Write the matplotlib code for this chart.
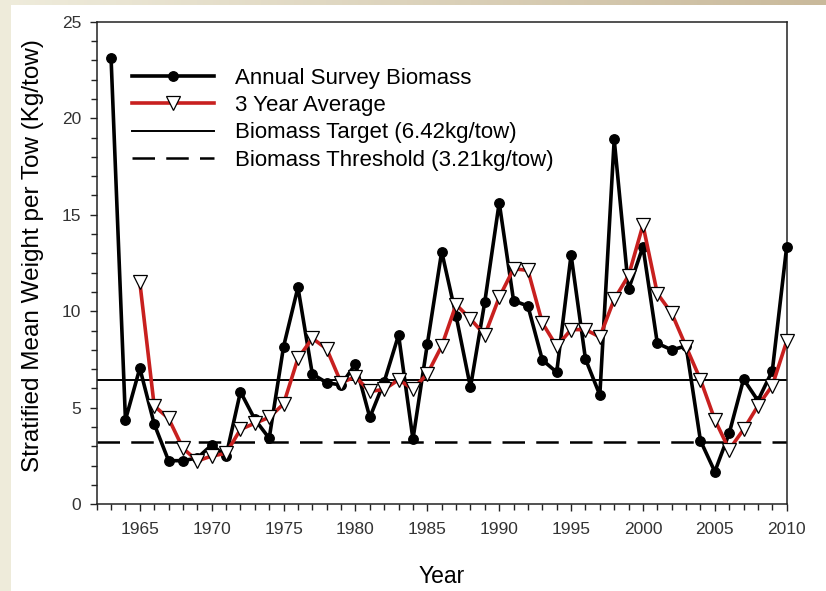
import matplotlib
matplotlib.use('Agg')
import matplotlib.pyplot as plt
import numpy as np
from matplotlib.ticker import MultipleLocator
from matplotlib.patches import Rectangle
from matplotlib.colors import LinearSegmentedColormap

plt.rcParams['font.family'] = ['Liberation Sans', 'DejaVu Sans']

years = list(range(1963, 2011))
annual = [23.1, 4.37, 7.05, 4.16, 2.26, 2.26, 2.4, 3.07, 2.5, 5.83,
          4.4, 3.42, 8.17, 11.24, 6.75, 6.3, 6.18, 7.27, 4.5, 6.35,
          8.77, 3.37, 8.3, 13.09, 9.76, 6.06, 10.5, 15.63, 10.55, 10.27,
          7.48, 6.84, 12.92, 7.53, 5.66, 18.9, 11.14, 13.35, 8.34, 8.0,
          8.2, 3.3, 1.69, 3.68, 6.48, 5.37, 6.92, 13.35]
avg_years = list(range(1965, 2011))
avg3 = [11.5, 5.1, 4.45, 2.9, 2.25, 2.5, 2.64, 3.88, 4.2, 4.5,
        5.2, 7.56, 8.6, 8.05, 6.3, 6.6, 5.85, 5.95, 6.45, 5.98,
        6.75, 8.2, 10.35, 9.6, 8.77, 10.72, 12.2, 12.12, 9.4, 8.18,
        9.05, 9.05, 8.67, 10.62, 11.85, 14.47, 10.92, 9.9, 8.17, 6.46,
        4.38, 2.83, 3.88, 5.1, 6.15, 8.45]
target = 6.42
threshold = 3.21
labels = ['Annual Survey Biomass', '3 Year Average',
          'Biomass Target (6.42kg/tow)', 'Biomass Threshold (3.21kg/tow)']

W, H = 826, 591
fig = plt.figure(figsize=(W / 100, H / 100), dpi=100, facecolor='white')

# background strips (slide border)
fig.patches.append(Rectangle((0, 0), 11 / W, 1, transform=fig.transFigure,
                             facecolor='#eeebda', edgecolor='none', zorder=0))
grad = np.linspace(0, 1, 256).reshape(1, -1)
bax = fig.add_axes([0, 1 - 5 / H, 1, 5 / H])
cm = LinearSegmentedColormap.from_list('g', ['#efecdc', '#c9b99b'])
bax.imshow(grad, aspect='auto', cmap=cm, extent=(0, 1, 0, 1))
bax.axis('off')

left, right, top, bottom = 96.7, 786.7, 21.7, 504.3
ax = fig.add_axes([left / W, 1 - bottom / H, (right - left) / W, (bottom - top) / H])

ax.axhline(target, color='black', lw=1.4, zorder=2, label=labels[2])
ax.axhline(threshold, color='black', lw=1.8, ls=(0, (9, 4.5)), zorder=2, label=labels[3])
ax.plot(years, annual, color='black', lw=2.6, marker='o', ms=6.8,
        mfc='black', mec='black', zorder=3, clip_on=False, label=labels[0])
ax.plot(avg_years, avg3, color='#c8201f', lw=2.6, marker='v', ms=10.5,
        mfc='white', mec='black', mew=0.9, zorder=4, clip_on=False, label=labels[1])

ax.set_xlim(1962, 2010)
ax.set_ylim(0, 25)
ax.xaxis.set_minor_locator(MultipleLocator(1))
ax.yaxis.set_major_locator(MultipleLocator(5))
ax.yaxis.set_minor_locator(MultipleLocator(1))
ax.set_xticks(list(range(1965, 2011, 5)))
ax.tick_params(which='major', direction='out', length=5, width=1, labelsize=12.5,
               labelcolor='#333333', color='#222222')
ax.tick_params(which='minor', direction='out', length=4, width=1, color='#222222')
ax.tick_params(axis='x', which='major', pad=8)
ax.tick_params(axis='y', which='major', pad=6)
for s in ax.spines.values():
    s.set_color('#222222')
    s.set_linewidth(1.1)

ax.set_xlabel('Year', fontsize=16.5, labelpad=20)
ax.set_ylabel('Stratified Mean Weight per Tow (Kg/tow)', fontsize=17.5, labelpad=12)
ax.yaxis.set_label_coords(-0.077, 0.515)

h, l = ax.get_legend_handles_labels()
hd = {lab: hh for hh, lab in zip(h, l)}
ax.legend([hd[x] for x in labels], labels, loc='upper left',
          bbox_to_anchor=(131.7 / W, 1 - 68 / H), bbox_transform=fig.transFigure,
          frameon=False, borderpad=0, handlelength=3.7, handletextpad=0.95,
          labelspacing=0.28, fontsize=16, numpoints=1, borderaxespad=0)

fig.savefig('out.png', dpi=100, facecolor='white')
